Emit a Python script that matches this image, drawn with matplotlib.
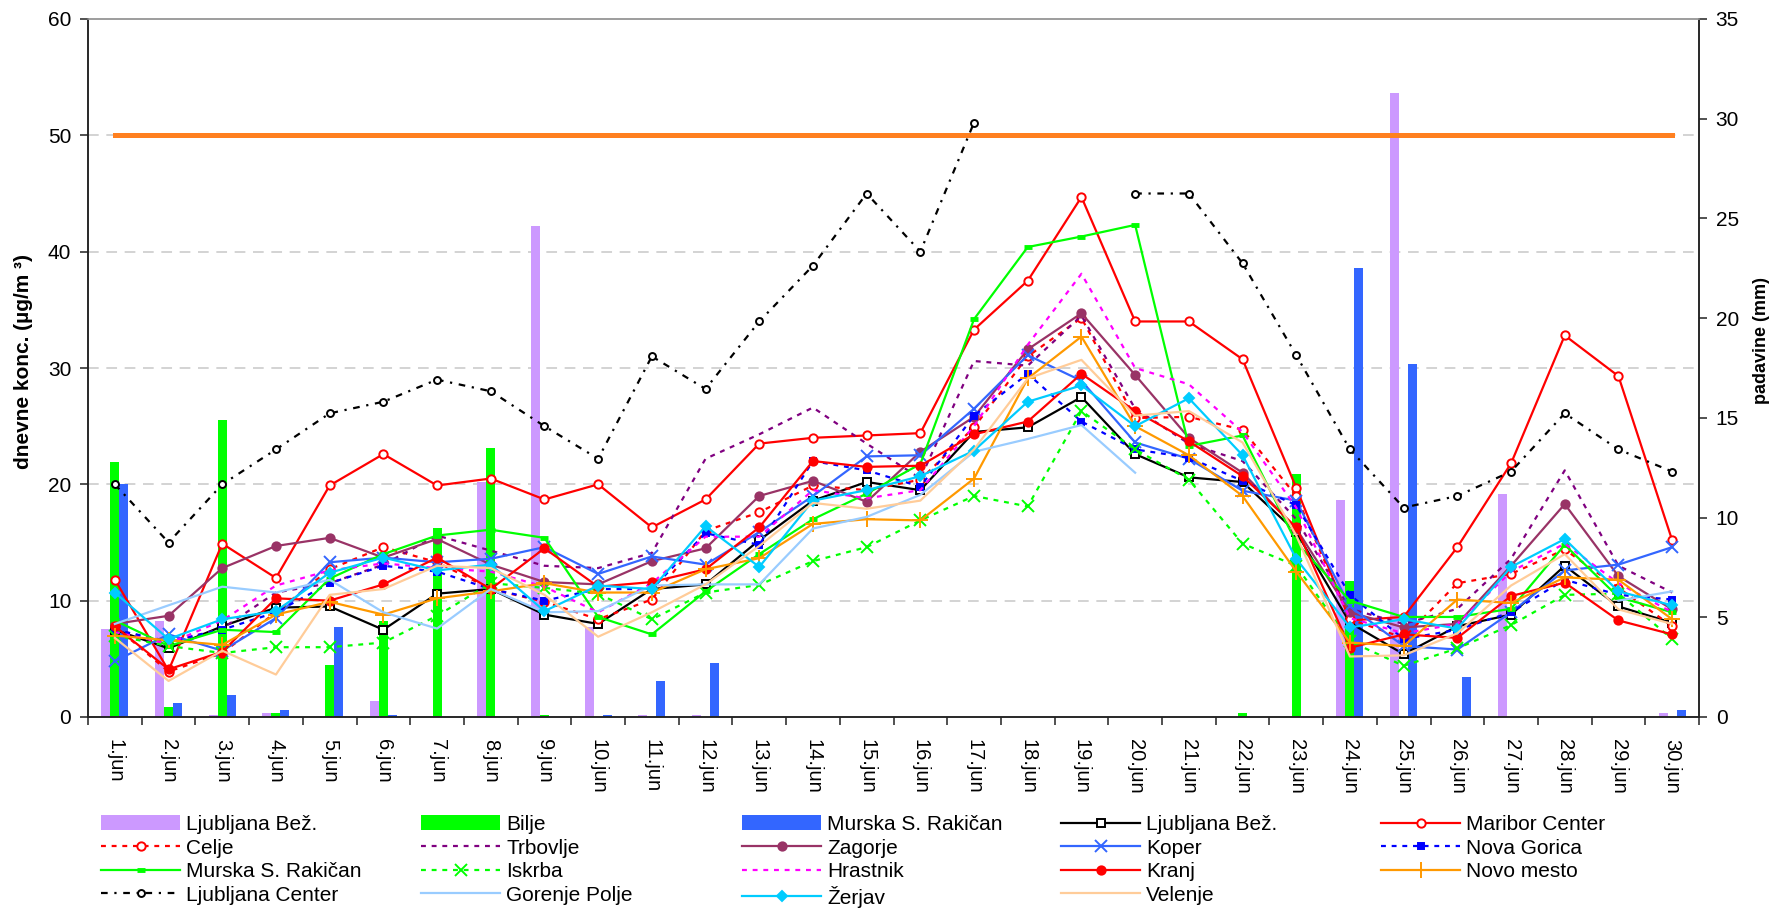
import numpy as np
import matplotlib
matplotlib.use("Agg")
import matplotlib.pyplot as plt

plt.rcParams['font.family'] = ['Liberation Sans', 'DejaVu Sans']

nan = np.nan
days = [f"{d}.jun" for d in range(1, 31)]

# daily precipitation (mm), right axis
rain_ljubljana = [4.4, 4.8, 0.1, 0.2, 0, 0.8, 0, 11.8, 24.6, 4.5, 0.1, 0.1, 0, 0, 0,
                  0, 0, 0, 0, 0, 0, 0, 0, 10.9, 31.3, 0, 11.2, 0, 0, 0.2]
rain_bilje = [12.8, 0.5, 14.9, 0.2, 2.6, 4.8, 9.5, 13.5, 0.1, 0, 0, 0, 0, 0, 0,
              0, 0, 0, 0, 0, 0, 0.2, 12.2, 6.8, 0, 0, 0, 0, 0, 0]
rain_murska = [11.7, 0.7, 1.1, 0.35, 4.5, 0.1, 0, 0, 0, 0.1, 1.8, 2.7, 0, 0, 0,
               0, 0, 0, 0, 0, 0, 0, 0, 22.5, 17.7, 2.0, 0, 0, 0, 0.35]

# daily PM10 concentrations (ug/m3), left axis
ljubljana_bez = [7.5, 5.9, 7.8, 9.4, 9.5, 7.5, 10.6, 11.0, 8.8, 8.0, 11.0, 11.4, 15.2, 18.6, 20.2,
                 19.5, 24.5, 24.9, 27.5, 22.6, 20.6, 20.2, 15.9, 8.1, 5.4, 7.8, 8.8, 13.0, 9.5, 8.1]
maribor = [11.8, 4.0, 14.9, 11.95, 19.9, 22.6, 19.9, 20.5, 18.7, 20.0, 16.3, 18.7, 23.5, 24.0, 24.2,
           24.4, 33.3, 37.5, 44.7, 34.0, 34.0, 30.75, 19.7, 8.3, 8.6, 14.6, 21.8, 32.8, 29.3, 15.2]
celje = [7.8, 3.9, 5.5, 9.0, 12.7, 14.6, 13.3, 11.0, 9.9, 8.4, 10.1, 16.0, 17.6, 19.9, 19.5,
         20.4, 24.9, 31.0, 34.3, 25.7, 25.8, 24.7, 19.0, 8.4, 6.8, 11.5, 12.3, 14.4, 11.1, 7.8]
trbovlje = [7.5, 6.4, 7.6, 10.7, 11.5, 13.1, 15.6, 14.3, 13.0, 12.8, 14.1, 22.2, 24.3, 26.6, 23.5,
            20.5, 30.6, 30.2, 34.5, 26.5, 23.5, 22.0, 17.0, 9.3, 8.0, 9.3, 13.6, 21.2, 13.0, 10.7]
zagorje = [8.0, 8.7, 12.8, 14.7, 15.4, 13.7, 15.3, 13.1, 11.6, 11.4, 13.4, 14.5, 19.0, 20.3, 18.5,
           22.8, 25.8, 31.6, 34.7, 29.4, 24.0, 21.0, 16.2, 9.0, 7.7, 8.0, 13.0, 18.3, 12.1, 9.25]
koper = [4.8, 7.1, 5.7, 8.5, 13.3, 13.7, 13.3, 13.6, 14.6, 12.3, 13.8, 13.1, 15.9, 19.0, 22.4,
         22.5, 26.5, 31.1, 28.9, 23.6, 22.2, 19.45, 18.6, 9.5, 6.1, 5.8, 9.0, 12.6, 13.1, 14.6]
nova_gorica = [7.5, 6.5, 7.5, 9.0, 11.5, 13.0, 12.5, 11.0, 10.0, 11.0, 11.0, 15.8, 14.8, 22.0, 21.2,
               19.8, 25.9, 29.5, 25.4, 23.0, 22.3, 20.3, 18.2, 10.5, 6.7, 7.5, 9.0, 11.8, 10.5, 10.1]
murska_pm = [8.3, 6.1, 7.5, 7.3, 11.9, 14.0, 15.6, 16.1, 15.4, 8.6, 7.1, 10.8, 14.0, 17.0, 19.2,
             21.75, 34.2, 40.4, 41.3, 42.3, 23.3, 24.2, 15.0, 10.0, 8.6, 8.6, 9.3, 14.8, 10.3, 9.0]
iskrba = [7.0, 6.1, 5.5, 6.0, 6.0, 6.4, 8.7, 11.5, 11.1, 10.6, 8.4, 10.7, 11.35, 13.4, 14.6,
          16.9, 19.0, 18.1, 26.3, 23.0, 20.4, 14.9, 13.0, 6.5, 4.4, 5.9, 7.9, 10.5, 10.6, 6.7]
hrastnik = [7.3, 6.3, 8.3, 11.3, 12.6, 13.2, 12.8, 12.5, 11.2, 9.0, 11.5, 15.5, 15.5, 19.5, 18.8,
            19.5, 25.0, 32.0, 38.1, 30.0, 28.6, 24.5, 18.0, 8.5, 7.2, 8.0, 12.5, 14.9, 11.5, 9.0]
kranj = [7.8, 4.1, 5.6, 10.2, 10.0, 11.4, 13.7, 11.0, 14.5, 11.2, 11.6, 12.7, 16.3, 22.0, 21.5,
         21.6, 24.3, 25.4, 29.5, 26.3, 23.7, 20.7, 16.3, 5.95, 7.1, 6.8, 10.4, 11.55, 8.3, 7.1]
novo_mesto = [7.0, 6.6, 6.2, 8.8, 9.9, 8.8, 10.2, 10.8, 11.5, 10.7, 10.7, 12.7, 13.65, 16.6, 17.0,
              16.9, 20.5, 29.1, 32.7, 25.0, 22.5, 19.0, 12.5, 6.4, 6.1, 10.1, 9.8, 12.0, 11.8, 8.4]
ljubljana_center = [20.0, 15.0, 20.0, 23.0, 26.1, 27.1, 29.0, 28.0, 25.0, 22.2, 31.0, 28.2, 34.0, 38.8, 45.0,
                    40.0, 51.1, nan, nan, 45.0, 45.0, 39.0, 31.1, 23.0, 18.0, 19.0, 21.1, 26.1, 23.0, 21.1]
gorenje_polje = [8.0, 9.6, 11.2, 10.7, 11.8, 9.0, 7.6, 11.0, 9.0, 9.1, 11.3, 11.4, 11.4, 16.2, 17.2,
                 19.1, 22.8, 23.9, 25.1, 21.0, nan, nan, nan, nan, nan, nan, nan, nan, 10.0, 10.8]
zerjav = [10.7, 6.7, 8.4, 9.1, 12.4, 13.7, 12.6, 13.1, 9.1, 11.3, 11.0, 16.4, 12.9, 18.6, 19.5,
          20.7, 22.9, 27.1, 28.5, 25.0, 27.4, 22.5, 13.6, 7.7, 8.4, 7.6, 12.9, 15.3, 10.8, 9.6]
velenje = [6.8, 3.1, 5.7, 3.65, 10.5, 11.0, 13.0, 12.8, 10.5, 6.9, 9.0, 11.4, 14.7, 18.4, 17.9,
           18.6, 23.0, 29.1, 30.7, 25.9, 26.3, 23.6, 15.6, 5.2, 5.3, 7.2, 11.3, 14.0, 9.25, 8.0]

limit_value = 50

W, H = 1776, 908
fig = plt.figure(figsize=(W / 100, H / 100), dpi=100)
L, R, T, B = 88, 1699, 19, 717
ax = fig.add_axes([L / W, 1 - B / H, (R - L) / W, (B - T) / H])
ax2 = ax.twinx()
ax.set_zorder(ax2.get_zorder() + 1)
ax.patch.set_visible(False)

x = np.arange(len(days))
bw = 0.167

# gridlines behind the bars (left-axis values mapped to the right axis)
for v in range(10, 60, 10):
    ax2.axhline(v * 35 / 60, color='#c8c8c8', lw=1.1, ls=(0, (7, 5)), zorder=0)

b_lj = ax2.bar(x - bw, rain_ljubljana, bw, color='#CC99FF', zorder=1, label='Ljubljana Bež.')
b_bi = ax2.bar(x, rain_bilje, bw, color='#00FF00', zorder=1, label='Bilje')
b_mu = ax2.bar(x + bw, rain_murska, bw, color='#3366FF', zorder=1, label='Murska S. Rakičan')

# daily limit value
ax.plot(x, [limit_value] * len(x), color='#FF8020', lw=3.6, zorder=1.5)

lw = 1.6
dot = (0, (2.2, 2.6))

def line(vals, color, label, ls='-', marker=None, ms=6, mfc=None, mew=1.4):
    h, = ax.plot(x, vals, color=color, ls=ls, lw=lw, marker=marker, ms=ms,
                 mfc=mfc if mfc is not None else color, mec=color, mew=mew,
                 label=label, zorder=2)
    return h

h_ljb = line(ljubljana_bez, 'black', 'Ljubljana Bež.', marker='s', ms=6, mfc='white')
h_mar = line(maribor, '#FF0000', 'Maribor Center', marker='o', ms=6, mfc='white')
h_cel = line(celje, '#FF0000', 'Celje', ls=dot, marker='o', ms=6, mfc='white')
h_trb = line(trbovlje, '#800080', 'Trbovlje', ls=dot)
h_zag = line(zagorje, '#993366', 'Zagorje', marker='o', ms=6)
h_kop = line(koper, '#3366FF', 'Koper', marker='x', ms=8)
h_ng = line(nova_gorica, '#0000FF', 'Nova Gorica', ls=dot, marker='s', ms=4)
h_mur = line(murska_pm, '#00FF00', 'Murska S. Rakičan', marker='_', ms=6, mew=3.5)
h_isk = line(iskrba, '#00FF00', 'Iskrba', ls=dot, marker='x', ms=8)
h_hra = line(hrastnik, '#FF00FF', 'Hrastnik', ls=dot)
h_kra = line(kranj, '#FF0000', 'Kranj', marker='o', ms=6)
h_nm = line(novo_mesto, '#FF9900', 'Novo mesto', marker='+', ms=11)
h_ljc = line(ljubljana_center, 'black', 'Ljubljana Center', ls=(0, (3, 3, 1, 3)), marker='o', ms=5, mfc='white')
h_gp = line(gorenje_polje, '#99CCFF', 'Gorenje Polje')
h_zer = line(zerjav, '#00CCFF', 'Žerjav', marker='D', ms=5.5)
h_vel = line(velenje, '#FFCC99', 'Velenje')

ax.set_xlim(-0.5, len(days) - 0.5)
ax.set_ylim(0, 60)
ax2.set_ylim(0, 35)
ax.set_yticks(range(0, 61, 10))
ax2.set_yticks(range(0, 36, 5))

ax.set_xticks(x)
ax.set_xticklabels(days, rotation=-90, va='top', ha='center')
ax.set_xticks(np.arange(-0.5, len(days), 1), minor=True)
ax.tick_params(axis='x', which='major', length=0, pad=16, labelsize=14.5)
ax.tick_params(axis='x', which='minor', length=6, width=1.1, direction='out', color='#222222')
ax.tick_params(axis='y', length=6, width=1.1, pad=6, labelsize=15, color='#222222')
ax2.tick_params(axis='y', length=6, width=1.1, pad=6, labelsize=15, color='#222222')

for a in (ax, ax2):
    a.spines['top'].set_color('#9a9a9a')
    a.spines['left'].set_color('#222222')
    a.spines['right'].set_color('#222222')
    a.spines['bottom'].set_color('#222222')
    for s in a.spines.values():
        s.set_linewidth(1.1)

ax.set_ylabel('dnevne konc. (µg/m ³)', fontsize=15, fontweight='bold')
ax.yaxis.set_label_coords(-0.034, 0.51)
ax2.set_ylabel('padavine (mm)', fontsize=13, fontweight='bold', rotation=90)
ax2.yaxis.set_label_coords(1.0335, 0.54)

columns = [
    [b_lj, h_cel, h_mur, h_ljc],
    [b_bi, h_trb, h_isk, h_gp],
    [b_mu, h_zag, h_hra, h_zer],
    [h_ljb, h_kop, h_kra, h_vel],
    [h_mar, h_ng, h_nm],
]
col_x = [101, 421, 742, 1061, 1381]
fs = 15
for cx, handles in zip(col_x, columns):
    fig.legend(handles=handles, labels=[h.get_label() for h in handles],
               loc='upper left', bbox_to_anchor=(cx / W, 1 - 815 / H),
               frameon=False, fontsize=fs, handlelength=79 / (fs * 100 / 72),
               handletextpad=0.3, labelspacing=0.22, borderpad=0, borderaxespad=0,
               handleheight=0.7, numpoints=1)

fig.savefig('out.png', dpi=100)
